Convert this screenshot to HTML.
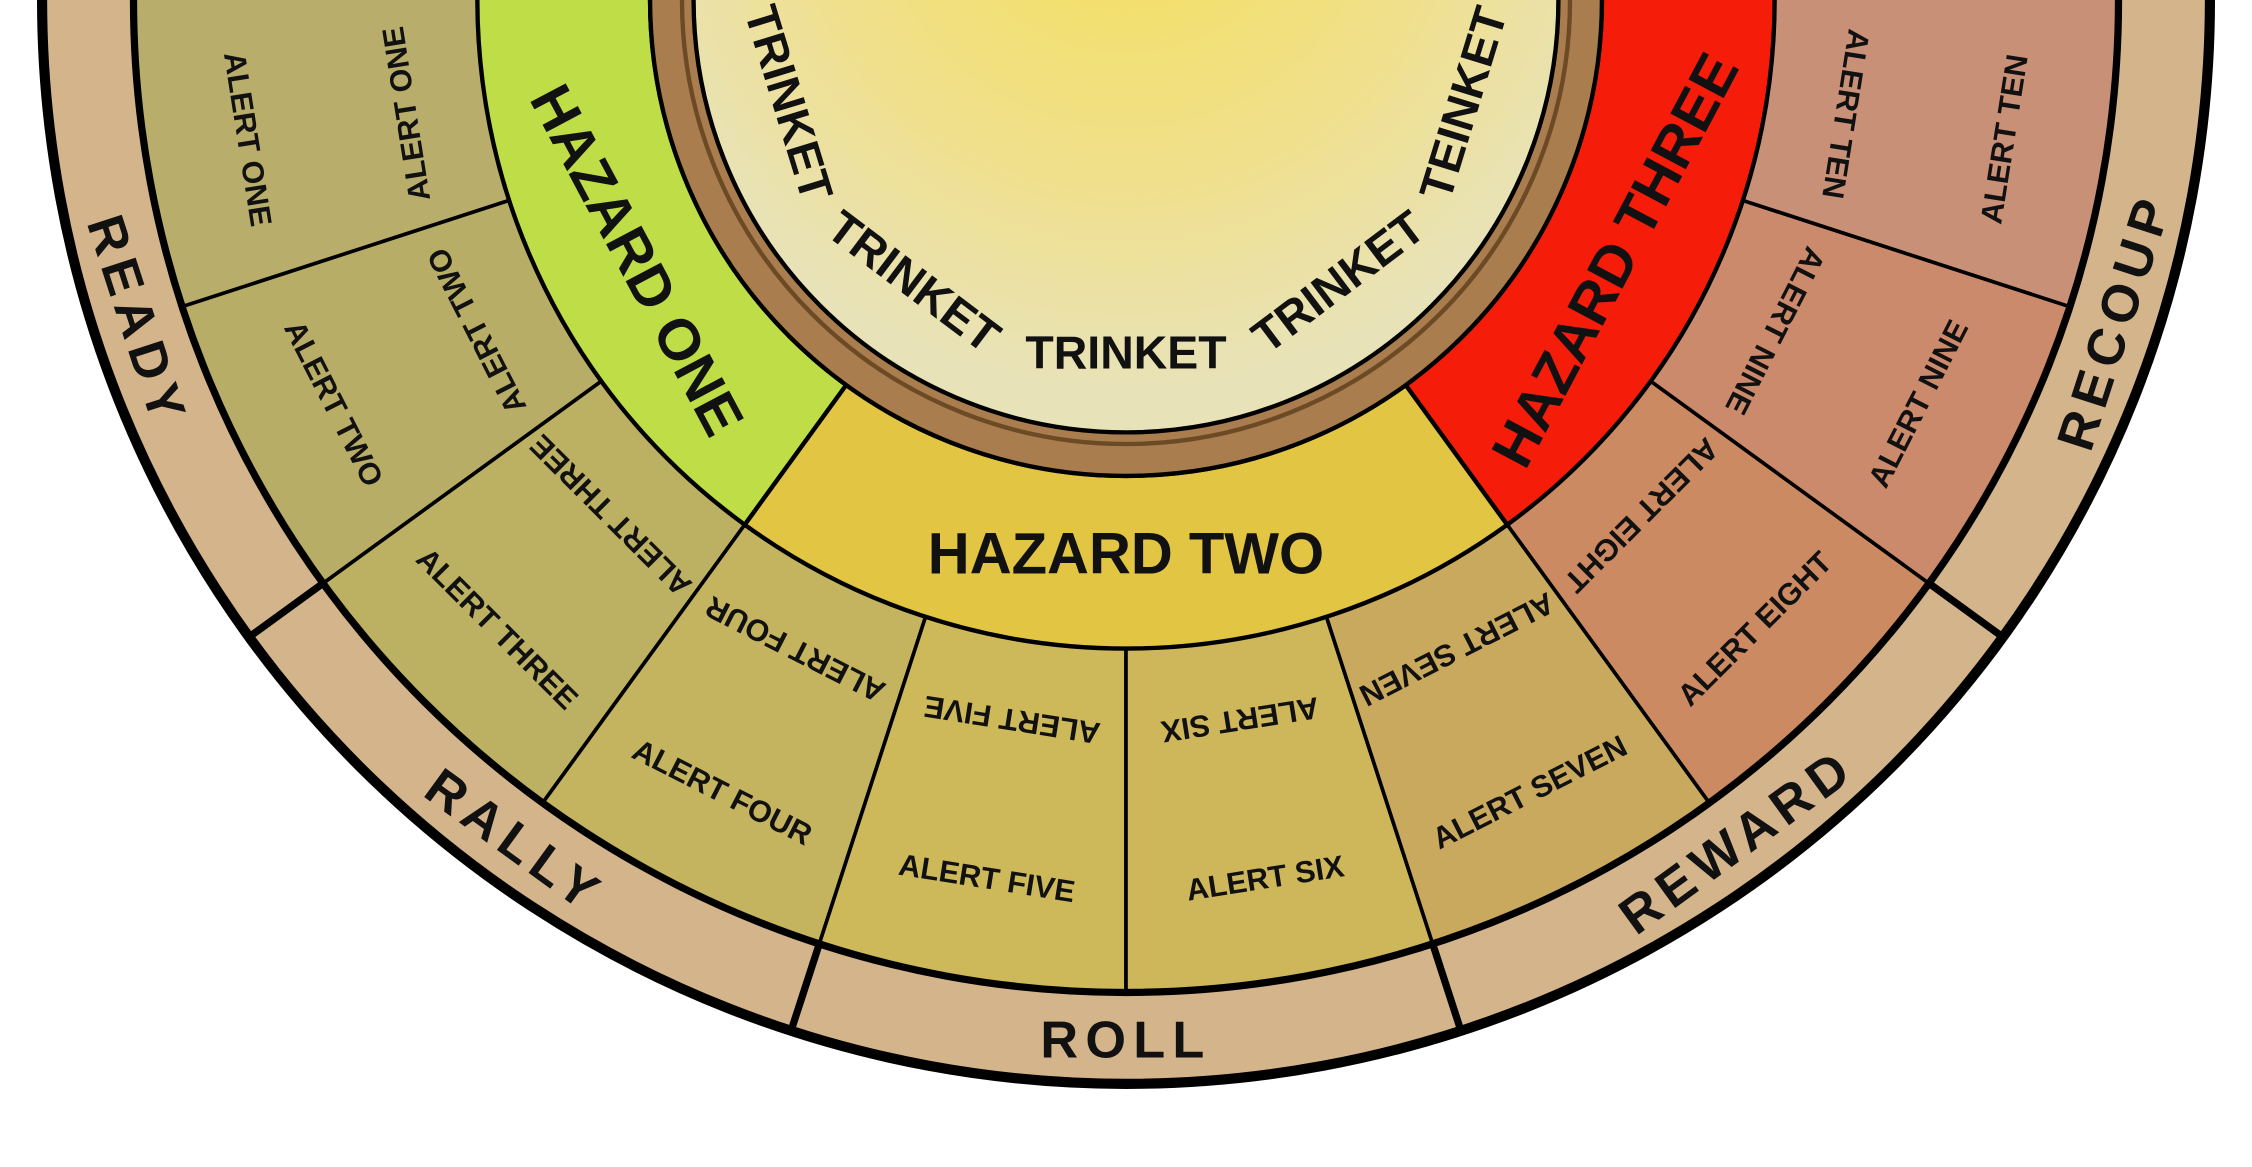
<!DOCTYPE html>
<html><head><meta charset="utf-8"><style>
html,body{margin:0;padding:0;background:#fff;overflow:hidden}
svg{display:block}
text{font-family:"Liberation Sans",sans-serif;font-weight:bold;fill:#111}
</style></head><body>
<svg id="wheel" width="2252" height="1167" viewBox="0 0 1552 804.3" preserveAspectRatio="none" xmlns="http://www.w3.org/2000/svg">
<defs>
<radialGradient id="innerGrad" cx="0.5" cy="0.35" r="0.6">
<stop offset="0" stop-color="#f6df5a"/><stop offset="0.6" stop-color="#f0e08c"/><stop offset="1" stop-color="#e8e2b8"/>
</radialGradient>
</defs>
<g id="layer"></g>
</svg>
<script>
const alertLabels=["ALERT ONE","ALERT TWO","ALERT THREE","ALERT FOUR","ALERT FIVE","ALERT SIX","ALERT SEVEN","ALERT EIGHT","ALERT NINE","ALERT TEN"];
const alertColors=["#b8ad6a","#b8ad66","#bcb062","#c4b460","#cdb95a","#cdb75a","#c9a95e","#cc8a62","#cc8a6c","#c99078"];
const bandLabels=["READY","RALLY","ROLL","REWARD","RECOUP"];
const hazardLabels=["HAZARD ONE","HAZARD TWO","HAZARD THREE"];
const hazardColors=["#bedd46","#e1c543","#f61c0a"];
const trinketLabels=["TRINKET","TRINKET","TRINKET","TRINKET","TEINKET"];

const CX=776,CY=0;
const R_OUT=747,R_BAND=684,R_HAZ=447,R_BROWN=328,R_INNER=298;
const NS="http://www.w3.org/2000/svg";
const g=document.getElementById('layer');
function pt(r,a){const t=a*Math.PI/180;return [CX-r*Math.sin(t),CY+r*Math.cos(t)];}
function sector(r1,r2,a1,a2){
  const p1=pt(r2,a1),p2=pt(r2,a2),p3=pt(r1,a2),p4=pt(r1,a1);
  const large=Math.abs(a2-a1)>180?1:0;
  const sw=a2>a1?1:0;
  return `M${p1[0]},${p1[1]} A${r2},${r2} 0 ${large} ${sw} ${p2[0]},${p2[1]} L${p3[0]},${p3[1]} A${r1},${r1} 0 ${large} ${1-sw} ${p4[0]},${p4[1]} Z`;
}
function mk(tag,attrs){const e=document.createElementNS(NS,tag);for(const k in attrs)e.setAttribute(k,attrs[k]);g.appendChild(e);return e;}
function label(txt,r,a,size,flip,spacing){
  const p=pt(r,a);
  const t=mk('text',{x:p[0],y:p[1],'font-size':size,'text-anchor':'middle','dominant-baseline':'central',
    transform:`rotate(${flip?a+180:a} ${p[0]} ${p[1]})`,'letter-spacing':spacing||0});
  t.textContent=txt;return t;
}
mk('circle',{cx:CX,cy:CY,r:R_OUT,fill:'#d4b48b',stroke:'#000','stroke-width':7});
alertLabels.forEach((lab,i)=>{
  const a1=90-i*18,a2=a1-18;
  const p=mk('path',{d:sector(R_HAZ,R_BAND,a1+(i==0?8:0),a2-(i==9?8:0)),fill:alertColors[i],stroke:'#000','stroke-width':2.5});
  
  
});
mk('circle',{cx:CX,cy:CY,r:R_BAND,fill:'none',stroke:'#000','stroke-width':5});
const hazSpans=[[98,36],[36,-36],[-36,-98]];
hazSpans.forEach((s,i)=>{
  const p=mk('path',{d:sector(R_BROWN,R_HAZ,s[0],s[1]),fill:hazardColors[i],stroke:'#000','stroke-width':3});
  
  
});
mk('circle',{cx:CX,cy:CY,r:R_BROWN,fill:'#a97d4d',stroke:'#000','stroke-width':3});
mk('circle',{cx:CX,cy:CY,r:R_INNER+8,fill:'none',stroke:'#6b4a25','stroke-width':3});
const inner=mk('circle',{cx:CX,cy:CY,r:R_INNER,fill:'url(#innerGrad)',stroke:'#000','stroke-width':3});


[54,18,-18,-54].forEach(a=>{const p1=pt(R_BAND,a),p2=pt(R_OUT,a);mk('line',{x1:p1[0],y1:p1[1],x2:p2[0],y2:p2[1],stroke:'#000','stroke-width':5});});
alertLabels.forEach((lab,i)=>{
  const a=90-i*18-9;
  const t1=label(lab,502,a,21,true);
  
  
  const t2=label(lab,613,a,21,false);
  
  
});
bandLabels.forEach((lab,i)=>{
  const a=72-i*36;
  const t=label(lab,717,a,36,false,5);
  
  
});
const hazAngles=[62,0,-62];
hazardLabels.forEach((lab,i)=>{
  const t=label(lab,382,hazAngles[i],40,false);
  
  
});
const trinketAngles=[73,37,0,-37,-73];
trinketLabels.forEach((lab,i)=>{
  const t=label(lab,243,trinketAngles[i],32,false);
  
  
});
</script>
</body></html>
